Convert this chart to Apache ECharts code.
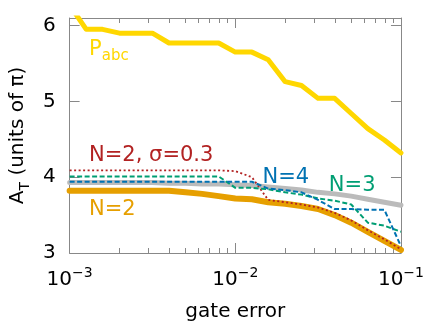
<!DOCTYPE html>
<html><head><meta charset="utf-8">
<script src="https://cdn.jsdelivr.net/npm/echarts@6/dist/echarts.min.js"></script>
<style>html,body{margin:0;padding:0;background:#fff}#c{width:427px;height:327px}</style>
</head><body><div id="c"></div>
<script>
const gateError = [0.001, 0.00126, 0.00158, 0.002, 0.00251, 0.00316, 0.00398, 0.00501, 0.00631, 0.00794, 0.01, 0.0126, 0.0158, 0.02, 0.0251, 0.0316, 0.0398, 0.0501, 0.0631, 0.0794, 0.1];
const pabc   = [6.27, 5.95, 5.95, 5.90, 5.90, 5.90, 5.77, 5.77, 5.77, 5.77, 5.65, 5.65, 5.55, 5.26, 5.21, 5.04, 5.04, 4.84, 4.64, 4.49, 4.32];
const bound  = [3.93, 3.93, 3.93, 3.93, 3.93, 3.93, 3.92, 3.92, 3.91, 3.91, 3.90, 3.89, 3.87, 3.85, 3.83, 3.80, 3.78, 3.75, 3.71, 3.67, 3.63];
const n2     = [3.82, 3.82, 3.82, 3.82, 3.82, 3.82, 3.82, 3.80, 3.78, 3.75, 3.72, 3.71, 3.67, 3.65, 3.62, 3.58, 3.50, 3.40, 3.28, 3.16, 3.04];
const n2sig  = [4.09, 4.09, 4.09, 4.09, 4.09, 4.09, 4.09, 4.09, 4.09, 4.09, 4.08, 4.00, 3.70, 3.67, 3.64, 3.60, 3.53, 3.43, 3.30, 3.18, 3.05];
const n3     = [4.01, 4.01, 4.01, 4.01, 4.01, 4.01, 4.01, 4.01, 4.01, 4.01, 3.86, 3.86, 3.84, 3.80, 3.77, 3.72, 3.69, 3.64, 3.40, 3.36, 3.28];
const n4     = [3.94, 3.94, 3.94, 3.94, 3.94, 3.94, 3.94, 3.94, 3.94, 3.94, 3.94, 3.94, 3.85, 3.83, 3.80, 3.70, 3.58, 3.58, 3.57, 3.57, 3.09];
const xMajorTicks = [0.001, 0.01, 0.1];
const xMinorTicks = [0.002,0.003,0.004,0.005,0.006,0.007,0.008,0.009,0.02,0.03,0.04,0.05,0.06,0.07,0.08,0.09];
const yTicks = [3, 4, 5, 6];
const labels = [
  {name: 'pabc', x: 0.00131, y: 5.68, color: '#FFD700'},
  {name: 'N=2, σ=0.3', x: 0.00131, y: 4.28, color: '#B22222'},
  {name: 'N=2', x: 0.00131, y: 3.57, color: '#E69F00'},
  {name: 'N=4', x: 0.0146, y: 4.0, color: '#0072B2'},
  {name: 'N=3', x: 0.0367, y: 3.89, color: '#009E73'}
];

const FONT = 'DejaVu Sans';
const AX = '#888888';
const pair = arr => arr.map((v, i) => [gateError[i], v]);

function xAxisDef(pos, ticks, len, showLine, showLabel) {
  return {
    type: 'log', logBase: 10, min: 0.001, max: 0.1, position: pos, gridIndex: 0,
    axisLine: {show: showLine, onZero: false, lineStyle: {color: AX, width: 1}},
    axisTick: {show: true, inside: true, length: len, customValues: ticks, lineStyle: {color: AX, width: 1}},
    axisLabel: showLabel ? {
      show: true, customValues: xMajorTicks, margin: 13,
      formatter: v => '{b|10}{s|' + String(Math.round(Math.log10(v))).replace('-', '\u2212') + '}',
      rich: {
        b: {fontFamily: FONT, fontSize: 20, color: '#000', lineHeight: 28},
        s: {fontFamily: FONT, fontSize: 14, color: '#000', lineHeight: 14, verticalAlign: 'top'}
      }
    } : {show: false},
    splitLine: {show: false}, minorTick: {show: false}, minorSplitLine: {show: false}
  };
}

const xAxes = [
  Object.assign(xAxisDef('bottom', xMajorTicks, 10, true, true), {
    name: 'gate error', nameLocation: 'middle', nameGap: 49,
    nameTextStyle: {fontFamily: FONT, fontSize: 20, color: '#000'}
  }),
  xAxisDef('bottom', xMinorTicks, 5, false, false),
  xAxisDef('top', xMajorTicks, 10, true, false),
  xAxisDef('top', xMinorTicks, 5, false, false)
];

const yAxes = [
  {
    type: 'value', min: 3, max: 6.1, position: 'left',
    axisLine: {show: true, onZero: false, lineStyle: {color: AX}},
    axisTick: {show: true, inside: true, length: 10, customValues: yTicks, lineStyle: {color: AX}},
    axisLabel: {show: true, customValues: yTicks, margin: 14, fontFamily: FONT, fontSize: 20, color: '#000'},
    splitLine: {show: false},
    name: '{a|A}{t|T}{a| (units of π)}', nameLocation: 'middle', nameGap: 32, nameRotate: 90,
    nameTextStyle: {
      rich: {
        a: {fontFamily: FONT, fontSize: 20, color: '#000', lineHeight: 28},
        t: {fontFamily: FONT, fontSize: 14, color: '#000', lineHeight: 16, verticalAlign: 'bottom'}
      }
    }
  },
  {
    type: 'value', min: 3, max: 6.1, position: 'right',
    axisLine: {show: true, onZero: false, lineStyle: {color: AX}},
    axisTick: {show: true, inside: true, length: 10, customValues: yTicks, lineStyle: {color: AX}},
    axisLabel: {show: false}, splitLine: {show: false}
  }
];

function lineSeries(name, arr, color, width, type) {
  return {
    type: 'line', name, data: pair(arr), xAxisIndex: 0, yAxisIndex: 0,
    showSymbol: false, symbol: 'none', animation: false, clip: true,
    lineStyle: {color, width, type: type || 'solid', cap: type ? 'butt' : 'round', join: 'round'},
    z: 2
  };
}

const labelSeries = {
  type: 'scatter', xAxisIndex: 0, yAxisIndex: 0, symbolSize: 0, silent: true, animation: false, z: 5,
  itemStyle: {opacity: 1},
  data: labels.map(l => ({
    value: [l.x, l.y],
    itemStyle: {opacity: 1, color: l.color},
    label: {
      show: true, position: 'right', distance: 0, opacity: 1,
      formatter: l.name === 'pabc' ? '{p|P}{s|abc}' : '{p|' + l.name + '}',
      rich: {
        p: {fontFamily: FONT, fontSize: 21, color: l.color, lineHeight: 28},
        s: {fontFamily: FONT, fontSize: 15, color: l.color, lineHeight: 16, verticalAlign: 'bottom'}
      }
    }
  }))
};

const chart = echarts.init(document.getElementById('c'), null, {renderer: 'canvas'});
chart.setOption({
  animation: false,
  backgroundColor: '#fff',
  grid: {left: 63, right: 24, top: 18, bottom: 70, containLabel: false},
  xAxis: xAxes,
  yAxis: yAxes,
  series: [
    lineSeries('Pabc', pabc, '#FFD700', 5),
    lineSeries('bound', bound, '#BBBBBB', 5),
    lineSeries('N=2', n2, '#E69F00', 6),
    lineSeries('N=2 sigma', n2sig, '#B22222', 1.8, [2, 2.5]),
    lineSeries('N=3', n3, '#009E73', 2, [5, 2.5]),
    lineSeries('N=4', n4, '#0072B2', 2, [5, 2.5]),
    labelSeries
  ]
});
</script>
</body></html>
